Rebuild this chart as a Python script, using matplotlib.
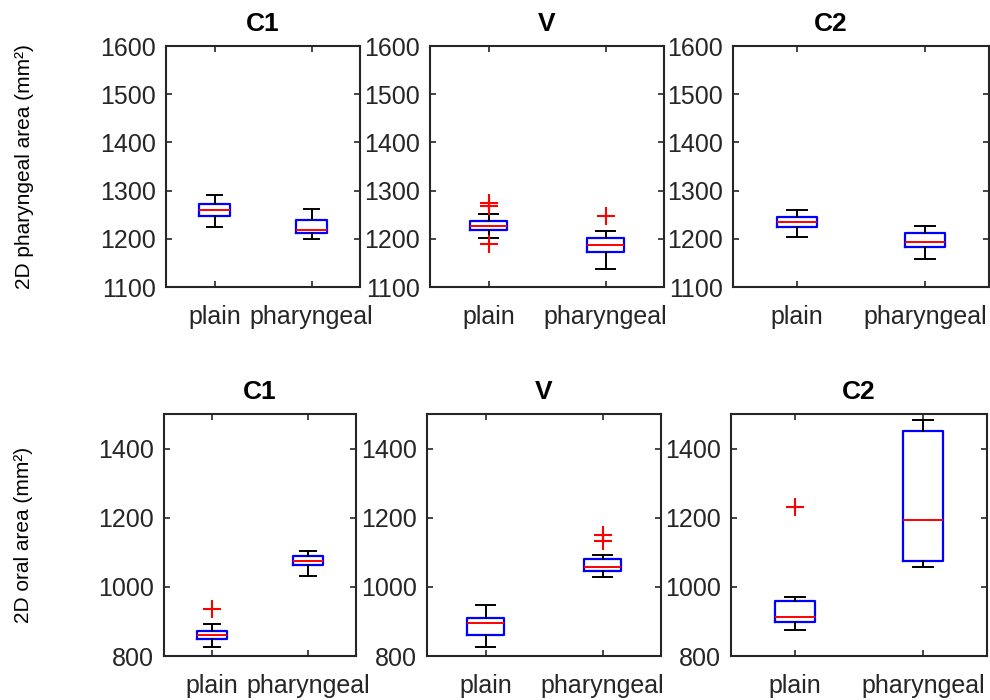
import matplotlib
matplotlib.use("Agg")
import matplotlib.pyplot as plt

plt.rcParams['font.family'] = ['Liberation Sans', 'DejaVu Sans']

conditions = ['C1', 'V', 'C2']
groups = ['plain', 'pharyngeal']

# top row: 2D pharyngeal area, per condition -> [plain, pharyngeal]
phar_lo = [[1225, 1200], [1202, 1138], [1204, 1159]]
phar_q1 = [[1248, 1212], [1218, 1172], [1224, 1182]]
phar_med = [[1260, 1218], [1227, 1188], [1235, 1193]]
phar_q3 = [[1273, 1238], [1236, 1202], [1245, 1211]]
phar_hi = [[1291, 1262], [1252, 1216], [1260, 1227]]
phar_out = [[[], []], [[1275, 1269, 1189], [1248]], [[], []]]

# bottom row: 2D oral area
oral_lo = [[826, 1030], [827, 1029], [876, 1058]]
oral_q1 = [[849, 1063], [862, 1046], [897, 1075]]
oral_med = [[861, 1074], [896, 1058], [913, 1193]]
oral_q3 = [[873, 1089], [909, 1080], [960, 1450]]
oral_hi = [[894, 1104], [947, 1092], [970, 1484]]
oral_out = [[[936], []], [[], [1149, 1133]], [[1231], []]]

phar_ticks = [1100, 1200, 1300, 1400, 1500, 1600]
oral_ticks = [800, 1000, 1200, 1400]

W, H = 990, 700
fig = plt.figure(figsize=(9.9, 7), dpi=100)

# axes boxes in pixels: left, right, top, bottom
top_boxes = [(166, 360), (430, 664), (733, 989)]
bot_boxes = [(164, 356), (427, 661), (731, 987)]


def make_ax(l, r, t, b):
    return fig.add_axes([l / W, (H - b) / H, (r - l) / W, (b - t) / H])


def draw(ax, lo, q1, med, q3, hi, out, ylim, ticks):
    stats = []
    for j in range(2):
        stats.append(dict(whislo=lo[j], q1=q1[j], med=med[j], q3=q3[j],
                          whishi=hi[j], fliers=out[j]))
    ax.bxp(stats, positions=[1, 2], widths=0.31, showfliers=True,
           boxprops=dict(color='blue', linewidth=1.6),
           medianprops=dict(color='red', linewidth=1.4),
           whiskerprops=dict(color='black', linewidth=1.4),
           capprops=dict(color='black', linewidth=1.4),
           capwidths=0.16,
           flierprops=dict(marker='+', markeredgecolor='red',
                           markersize=13, markeredgewidth=1.5))
    ax.set_xlim(0.5, 2.5)
    ax.set_ylim(*ylim)
    ax.set_yticks(ticks)
    ax.set_xticks([1, 2])
    ax.set_xticklabels(groups)
    ax.tick_params(direction='in', length=4, width=1.2, labelsize=18,
                   colors='#262626', top=True, right=True)
    ax.tick_params(axis='x', pad=13)
    ax.tick_params(axis='y', pad=7)
    for s in ax.spines.values():
        s.set_linewidth(1.5)
        s.set_color('#262626')


for i, (l, r) in enumerate(top_boxes):
    ax = make_ax(l, r, 46, 287)
    draw(ax, phar_lo[i], phar_q1[i], phar_med[i], phar_q3[i], phar_hi[i],
         phar_out[i], (1100, 1600), phar_ticks)
    tx = 0.38 if i == 2 else 0.5
    ax.set_title(conditions[i], fontsize=19, fontweight='bold', pad=11, x=tx)
    if i == 0:
        ax.set_ylabel('2D pharyngeal area (mm²)', fontsize=15)
        ax.yaxis.set_label_coords(-0.68, 0.5)

for i, (l, r) in enumerate(bot_boxes):
    ax = make_ax(l, r, 414, 656)
    draw(ax, oral_lo[i], oral_q1[i], oral_med[i], oral_q3[i], oral_hi[i],
         oral_out[i], (800, 1500), oral_ticks)
    ax.set_title(conditions[i], fontsize=19, fontweight='bold', pad=11)
    if i == 0:
        ax.set_ylabel('2D oral area (mm²)', fontsize=15)
        ax.yaxis.set_label_coords(-0.68, 0.5)

fig.savefig('out.png', dpi=100)
